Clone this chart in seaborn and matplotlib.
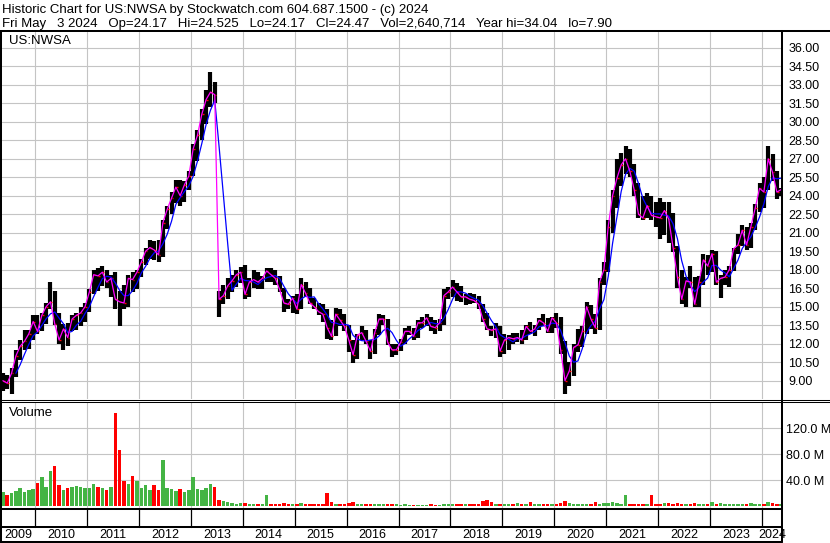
import numpy as np
import pandas as pd
import matplotlib
matplotlib.use("Agg")
import matplotlib.pyplot as plt
import seaborn as sns

sns.set_theme(style="white")
plt.rcParams["font.family"] = ["Liberation Sans", "DejaVu Sans"]

# ---------------- data (monthly, May 2009 .. May 2024) ----------------
FIRST_MONTH = "2009-05"

high = (
    [9.6, 9.5, 10.0, 11.5, 12.3, 13.1, 13.1, 14.3]                                  # 2009
    + [14.3, 14.5, 15.3, 17.0, 16.3, 14.5, 13.6, 13.7, 14.3, 14.5, 15.0, 15.3]      # 2010
    + [16.4, 18.0, 18.1, 18.3, 18.0, 17.6, 17.8, 16.3, 16.8, 17.6, 17.8, 18.0]      # 2011
    + [18.9, 19.8, 20.4, 20.3, 20.4, 22.0, 23.2, 24.3, 25.3, 25.3, 25.2, 26.0]      # 2012
    + [28.2, 29.3, 31.0, 32.6, 34.0, 33.2, 16.3, 16.8, 17.3, 17.6, 18.0, 18.2]      # 2013
    + [18.4, 17.3, 18.0, 17.8, 17.5, 18.1, 18.1, 18.0, 17.5, 16.5, 15.6, 15.9]      # 2014
    + [16.0, 17.3, 17.0, 16.5, 15.7, 15.3, 15.2, 14.8, 13.9, 14.9, 14.8, 14.4]      # 2015
    + [13.5, 12.3, 12.8, 13.4, 13.1, 12.3, 13.2, 14.4, 14.3, 14.0, 12.0, 12.0]      # 2016
    + [12.4, 13.3, 13.4, 13.3, 13.9, 14.2, 14.4, 14.2, 13.9, 14.0, 16.4, 16.6]      # 2017
    + [17.2, 16.9, 16.7, 16.0, 16.1, 16.0, 15.9, 15.2, 14.5, 13.4, 13.7, 13.4]      # 2018
    + [12.8, 12.7, 12.9, 12.9, 13.1, 13.5, 13.8, 13.5, 14.1, 14.4, 14.1, 14.2]      # 2019
    + [14.5, 14.2, 12.2, 10.5, 12.0, 13.2, 13.4, 15.4, 15.1, 14.4, 17.3, 18.6]      # 2020
    + [22.0, 24.5, 27.0, 27.5, 28.0, 27.8, 26.6, 25.0, 24.0, 24.2, 24.0, 23.5]      # 2021
    + [23.8, 23.5, 23.5, 22.6, 19.9, 18.0, 17.4, 18.3, 17.4, 17.5, 19.3, 19.2]      # 2022
    + [19.6, 19.5, 17.6, 18.0, 18.3, 19.8, 20.9, 21.6, 21.5, 21.8, 23.3, 25.0]      # 2023
    + [25.5, 28.0, 27.4, 26.0, 24.6]                                                # 2024
)

low = (
    [8.2, 8.3, 7.9, 9.3, 10.7, 11.5, 11.6, 12.3]
    + [12.8, 13.0, 13.6, 14.8, 13.5, 12.0, 11.5, 11.8, 13.0, 13.1, 13.4, 13.8]
    + [14.6, 16.0, 16.3, 16.7, 16.5, 15.8, 14.8, 13.4, 14.8, 15.0, 16.2, 16.4]
    + [17.4, 18.4, 18.9, 18.8, 18.6, 19.0, 21.3, 22.5, 23.4, 23.2, 23.5, 24.5]
    + [25.6, 26.8, 28.5, 29.8, 31.2, 31.5, 14.2, 15.2, 15.6, 16.2, 16.6, 16.9]
    + [15.6, 15.8, 16.5, 16.4, 16.4, 17.0, 17.0, 16.8, 16.2, 14.6, 14.8, 14.5]
    + [14.4, 14.8, 15.8, 15.2, 14.8, 14.3, 13.8, 12.4, 12.3, 12.6, 13.4, 13.0]
    + [11.3, 10.4, 10.8, 12.3, 12.0, 10.8, 11.2, 12.7, 13.5, 11.9, 10.9, 11.1]
    + [11.4, 12.0, 12.7, 12.3, 12.5, 13.3, 13.4, 13.0, 12.8, 13.0, 13.5, 15.6]
    + [15.8, 15.5, 15.4, 15.1, 15.2, 15.3, 14.8, 13.8, 13.1, 12.6, 12.5, 10.9]
    + [11.2, 11.5, 12.0, 12.1, 12.0, 12.3, 12.8, 12.6, 13.1, 13.4, 12.9, 12.9]
    + [13.3, 11.2, 7.9, 8.6, 9.4, 11.3, 11.7, 12.8, 13.2, 12.8, 13.1, 16.8]
    + [17.8, 21.0, 23.0, 24.8, 25.8, 25.5, 24.0, 22.2, 22.0, 22.2, 22.0, 21.5]
    + [20.5, 20.8, 20.2, 19.4, 16.5, 15.2, 15.0, 16.5, 15.0, 15.0, 16.8, 17.6]
    + [17.8, 16.8, 15.7, 16.8, 16.6, 17.9, 19.3, 19.9, 19.6, 19.8, 21.2, 22.7]
    + [23.0, 24.5, 25.2, 23.7, 24.0]
)

close = (
    [9.0, 8.8, 9.6, 11.0, 11.8, 12.2, 12.8, 13.8]
    + [13.0, 14.3, 15.0, 15.4, 13.6, 12.3, 13.2, 12.5, 14.0, 14.3, 14.5, 15.0]
    + [16.2, 17.6, 17.5, 17.8, 17.0, 17.3, 15.6, 15.4, 15.3, 17.3, 17.2, 17.8]
    + [18.6, 19.5, 19.8, 19.6, 19.2, 21.8, 22.9, 23.8, 24.7, 24.0, 24.9, 25.6]
    + [27.8, 28.9, 30.6, 31.8, 32.4, 32.2, 15.6, 15.9, 16.7, 17.1, 17.6, 17.8]
    + [16.0, 17.0, 17.2, 17.0, 17.3, 17.9, 17.6, 17.3, 16.4, 15.3, 15.2, 15.7]
    + [14.8, 16.8, 16.1, 15.3, 15.0, 14.6, 14.4, 13.3, 12.6, 14.4, 13.9, 13.4]
    + [12.3, 11.1, 12.7, 12.9, 12.2, 11.4, 12.9, 14.0, 14.0, 12.1, 11.5, 11.5]
    + [12.1, 13.0, 13.0, 12.6, 13.7, 13.7, 14.1, 13.4, 13.3, 13.7, 15.9, 16.2]
    + [16.6, 16.2, 15.8, 15.8, 15.6, 15.5, 15.2, 14.0, 13.2, 13.1, 13.2, 11.4]
    + [12.3, 12.5, 12.4, 12.5, 12.3, 13.4, 13.0, 13.2, 13.9, 13.7, 13.0, 14.1]
    + [13.7, 11.5, 9.0, 9.8, 11.7, 11.9, 13.0, 15.0, 14.0, 13.3, 17.0, 18.0]
    + [21.5, 24.0, 25.4, 26.5, 27.0, 26.0, 24.5, 22.5, 22.2, 23.2, 22.4, 22.3]
    + [22.2, 22.8, 22.1, 19.8, 17.4, 15.6, 17.1, 17.0, 15.2, 17.0, 18.8, 18.3]
    + [19.3, 17.0, 17.3, 17.4, 18.0, 19.7, 20.0, 21.2, 20.0, 21.5, 23.0, 24.6]
    + [24.3, 27.0, 25.9, 24.3, 24.5]
)

volume_m = (
    [22, 18, 20, 24, 28, 22, 25, 27]
    + [36, 45, 30, 55, 62, 33, 25, 28, 30, 32, 30, 28]
    + [28, 35, 30, 28, 25, 30, 143, 87, 39, 35, 47, 39]
    + [28, 33, 25, 33, 25, 71, 28, 26, 24, 27, 22, 25]
    + [45, 26, 25, 28, 35, 30, 10, 8, 6, 5, 4, 5]
    + [5, 4, 4, 3, 3, 17, 4, 3, 3, 5, 4, 3]
    + [4, 5, 3, 3, 3, 3, 4, 20, 6, 4, 3, 4]
    + [5, 6, 4, 3, 3, 4, 3, 4, 3, 4, 4, 3]
    + [2, 3, 2, 2, 2, 2, 2, 3, 2, 2, 3, 4]
    + [3, 3, 3, 4, 3, 3, 3, 8, 9, 7, 4, 4]
    + [4, 3, 3, 5, 4, 3, 6, 3, 3, 4, 3, 3]
    + [4, 5, 8, 5, 4, 3, 3, 4, 3, 6, 4, 5]
    + [5, 6, 5, 4, 17, 3, 3, 4, 3, 3, 18, 4]
    + [4, 5, 5, 4, 5, 4, 3, 3, 5, 4, 3, 4]
    + [7, 4, 5, 3, 4, 4, 3, 4, 3, 5, 4, 4]
    + [4, 7, 5, 4, 3]
)

price_ticks = [9.0, 10.5, 12.0, 13.5, 15.0, 16.5, 18.0, 19.5, 21.0, 22.5, 24.0,
               25.5, 27.0, 28.5, 30.0, 31.5, 33.0, 34.5, 36.0]
price_tick_labels = ["9.00", "10.50", "12.00", "13.50", "15.00", "16.50", "18.00",
                     "19.50", "21.00", "22.50", "24.00", "25.50", "27.00", "28.50",
                     "30.00", "31.50", "33.00", "34.50", "36.00"]
volume_ticks = [40, 80, 120]
volume_tick_labels = ["40.0 M", "80.0 M", "120.0 M"]
year_labels = ["2009", "2010", "2011", "2012", "2013", "2014", "2015", "2016",
               "2017", "2018", "2019", "2020", "2021", "2022", "2023", "2024"]

header_1 = "Historic Chart for US:NWSA by Stockwatch.com 604.687.1500 - (c) 2024"
header_2 = ("Fri May   3 2024   Op=24.17   Hi=24.525   Lo=24.17   Cl=24.47   "
            "Vol=2,640,714   Year hi=34.04   lo=7.90")

# ---------------- frame ----------------
n = len(close)
per = pd.period_range(FIRST_MONTH, periods=n, freq="M")
df = pd.DataFrame({
    "x": per.year + (per.month - 0.5) / 12.0,
    "high": high, "low": low, "close": close, "volume": volume_m,
})
df["ma_short"] = df["close"]
df["ma_long"] = df["close"].rolling(4).mean()
up = df["close"].diff().fillna(0) >= 0
vol_colors = np.where(up, "#44b444", "#ff0000")

year_bounds = [int(y) for y in year_labels[1:]]
XLIM = (2009.358, 2024.391)

W, H = 830, 543
fig = plt.figure(figsize=(W / 100, H / 100), dpi=100)
fig.patch.set_facecolor("white")


def box(l, t, r, b):
    return [l / W, 1 - b / H, (r - l) / W, (b - t) / H]


ax_p = fig.add_axes(box(2, 32, 782, 399))
ax_v = fig.add_axes(box(2, 402, 782, 508))
ax_x = fig.add_axes(box(2, 509, 782, 542))
grid_c = "#c4c4c4"

# price panel
ax_p.vlines(df["x"], df["low"], df["high"], color="black", lw=3.0, zorder=2)
ax_p.hlines(df["close"], df["x"], df["x"] + 0.4 / 12, color="red", lw=1.0, zorder=3)
sns.lineplot(data=df, x="x", y="ma_long", ax=ax_p, color="#0000ff", lw=0.9,
             estimator=None, sort=False, zorder=4)
sns.lineplot(data=df, x="x", y="ma_short", ax=ax_p, color="#ff00ff", lw=0.9,
             estimator=None, sort=False, zorder=5)
ax_p.set_xlim(*XLIM)
ax_p.set_ylim(7.516, 37.28)
ax_p.set_yticks(price_ticks)
ax_p.set_yticklabels(price_tick_labels)
ax_p.set_xticks(year_bounds)
ax_p.set_xticklabels([])

# volume panel
ax_v.bar(df["x"], df["volume"], width=0.8 / 12, color=vol_colors, lw=0, zorder=2)
ax_v.set_xlim(*XLIM)
ax_v.set_ylim(-2.6, 160.5)
ax_v.set_yticks(volume_ticks)
ax_v.set_yticklabels(volume_tick_labels)
ax_v.set_xticks(year_bounds)
ax_v.set_xticklabels([])

for ax, pad in ((ax_p, 4.5), (ax_v, 3.0)):
    ax.set_xlabel("")
    ax.set_ylabel("")
    ax.set_facecolor("white")
    ax.grid(True, color=grid_c, lw=0.8, zorder=0)
    ax.set_axisbelow(True)
    ax.yaxis.tick_right()
    ax.tick_params(axis="y", length=0, pad=pad, labelsize=9, labelcolor="black",
                   labelright=True, labelleft=False)
    ax.tick_params(axis="x", length=0)
    for s in ax.spines.values():
        s.set_visible(False)

# year strip
ax_x.set_xlim(*XLIM)
ax_x.set_ylim(0, 1)
ax_x.axis("off")
sep_frac = (542 - 527) / 33
for yb in year_bounds:
    ax_x.axvline(yb, ymin=sep_frac, ymax=1, color="black", lw=0.9)
edges = [XLIM[0]] + year_bounds + [XLIM[1]]
for i, lab in enumerate(year_labels):
    cx = (edges[i] + edges[i + 1]) / 2
    ax_x.text(cx, (542 - 535) / 33, lab, ha="center", va="center", fontsize=9,
              color="black", clip_on=False)

# overlay frame and texts in pixel coordinates
ov = fig.add_axes([0, 0, 1, 1], zorder=10)
ov.set_xlim(0, W)
ov.set_ylim(H, 0)
ov.axis("off")
ov.patch.set_alpha(0)
thick, thin = 1.45, 0.75
ov.plot([0, W], [31, 31], color="black", lw=thick)
ov.plot([1, 1], [31, 542], color="black", lw=thick)
ov.plot([782, 782], [31, 542], color="black", lw=thick)
ov.plot([0, W], [399.5, 399.5], color="black", lw=thin)
ov.plot([0, W], [401.8, 401.8], color="black", lw=thin)
ov.plot([0, 782], [509, 509], color="black", lw=thick)
ov.plot([0, 782], [527, 527], color="black", lw=thick)
ov.plot([0, 782], [541.5, 541.5], color="black", lw=thick)
ov.text(9, 41.5, "US:NWSA", va="center", ha="left", fontsize=9.5, color="black")
ov.text(9, 413, "Volume", va="center", ha="left", fontsize=9.5, color="black")
ov.text(2, 13, header_1, va="baseline", ha="left", fontsize=9.5, color="black")
ov.text(2, 27, header_2, va="baseline", ha="left", fontsize=9.5, color="black")

fig.savefig("out.png", dpi=100, facecolor="white")
